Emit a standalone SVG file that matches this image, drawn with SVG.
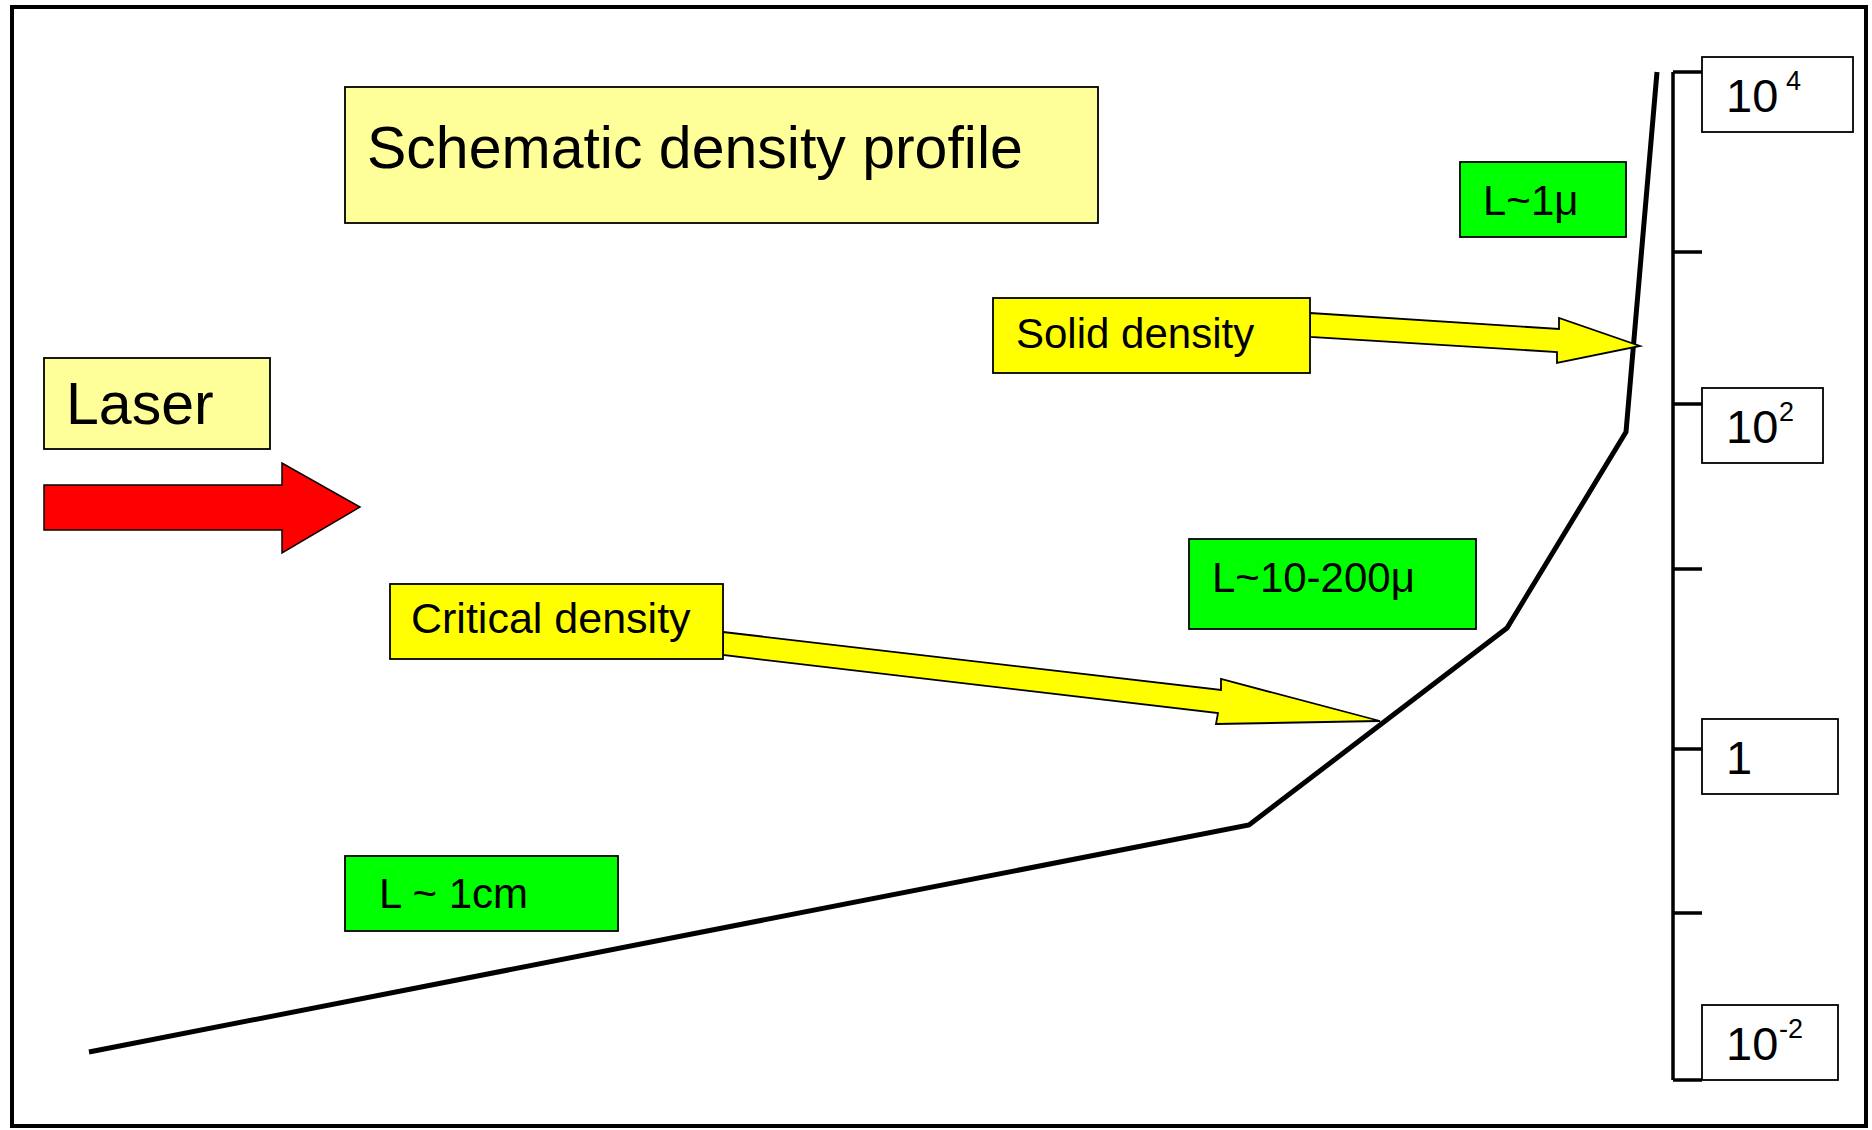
<svg xmlns="http://www.w3.org/2000/svg" width="1872" height="1130" viewBox="0 0 1872 1130">
<style>
text{font-family:"Liberation Sans",Arial,sans-serif;fill:#000}
.box{stroke:#000;stroke-width:1.8}
.pale{fill:#ffff99}
.yel{fill:#ffff00}
.grn{fill:#00ff00}
.wht{fill:#fff}
.t42{font-size:42px}
.t58{font-size:59px}
.num{font-size:47px}
.sup{font-size:27px}
.ax{fill:none;stroke:#000;stroke-width:3.5}
</style>
<rect x="12" y="7" width="1854" height="1119" fill="#fff" stroke="#000" stroke-width="4"/>
<g id="connectors">
<polyline points="89,1052 1249,825 1507,628 1626,432 1657,72" fill="none" stroke="#000" stroke-width="5" stroke-linejoin="miter"/>
<polygon id="laser-arrow" points="44,485 282,485 282,463 360,507 282,553 282,530 44,530" fill="#ff0000" stroke="#000" stroke-width="1.5"/>
<polygon id="solid-arrow" points="1310,313 1559,329 1559,318 1640,346 1557,363 1557,352 1310,337" fill="#ffff00" stroke="#000" stroke-width="1.8"/>
<polygon id="critical-arrow" points="723,632 1221,690 1221,679 1380,721 1216,724 1218,713 723,655" fill="#ffff00" stroke="#000" stroke-width="1.8"/>
</g>
<g id="axis">
<path class="ax" d="M1673,72 V1080 M1673,72 H1702 M1673,252 H1702 M1673,404 H1702 M1673,569 H1702 M1673,749 H1702 M1673,913 H1702 M1673,1080 H1702"/>
</g>
<g id="title">
<rect class="box pale" x="345" y="87" width="753" height="136"/>
<text class="t58" x="367" y="168">Schematic density profile</text>
</g>
<g id="laser">
<rect class="box pale" x="44" y="358" width="226" height="91"/>
<text class="t58" x="66" y="424">Laser</text>
</g>
<g id="solid-density">
<rect class="box yel" x="993" y="298" width="317" height="75"/>
<text class="t42" x="1016" y="348">Solid density</text>
</g>
<g id="critical-density">
<rect class="box yel" x="390" y="584" width="333" height="75"/>
<text x="411" y="633" style="font-size:43px">Critical density</text>
</g>
<g id="l-1mu">
<rect class="box grn" x="1460" y="162" width="166" height="75"/>
<text class="t42" x="1483" y="215">L~1μ</text>
</g>
<g id="l-10-200mu">
<rect class="box grn" x="1189" y="539" width="287" height="90"/>
<text class="t42" x="1212" y="592">L~10-200μ</text>
</g>
<g id="l-1cm">
<rect class="box grn" x="345" y="856" width="273" height="75"/>
<text class="t42" x="379" y="908">L ~ 1cm</text>
</g>
<g id="label-1e4">
<rect class="box wht" x="1702" y="57" width="151" height="75"/>
<text class="num" x="1726" y="112">10</text>
<text class="sup" x="1786" y="90">4</text>
</g>
<g id="label-1e2">
<rect class="box wht" x="1702" y="388" width="121" height="75"/>
<text class="num" x="1726" y="443">10</text>
<text class="sup" x="1779" y="421">2</text>
</g>
<g id="label-1">
<rect class="box wht" x="1702" y="719" width="136" height="75"/>
<text class="num" x="1726" y="774">1</text>
</g>
<g id="label-1e-2">
<rect class="box wht" x="1702" y="1005" width="136" height="75"/>
<text class="num" x="1726" y="1060">10</text>
<text class="sup" x="1779" y="1038">-2</text>
</g>
</svg>
